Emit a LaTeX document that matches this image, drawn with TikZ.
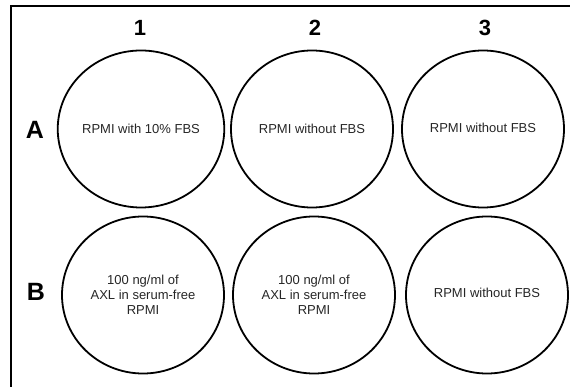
\documentclass[tikz,border=0pt]{standalone}
\usepackage{fontspec}
\setmainfont{Liberation Sans}
\usetikzlibrary{shapes.geometric}
\begin{document}
\begin{tikzpicture}[x=1pt,y=-1pt,
  well/.style={draw=black,line width=1.8pt,ellipse,inner sep=0pt,minimum width=162pt,minimum height=157pt,align=center,font=\fontsize{13}{15}\selectfont,text=black!85},
  colhead/.style={font=\fontsize{22}{24}\selectfont\bfseries},
  rowhead/.style={font=\fontsize{25}{27}\selectfont\bfseries}]
\useasboundingbox (0,0) rectangle (570,387);
\draw[line width=2.5pt] (11,390) -- (11,6) -- (575,6);
\node[colhead] (c1) at (140,28) {1};
\node[colhead] (c2) at (315,28) {2};
\node[colhead] (c3) at (485,28) {3};
\node[rowhead] (rA) at (35,130) {A};
\node[rowhead] (rB) at (36,292) {B};
\node[well] (a1) at (141,129) {RPMI with 10\% FBS};
\node[well] (a2) at (312,129) {RPMI without FBS};
\node[well] (a3) at (483,129) {\raisebox{2pt}{RPMI without FBS}};
\node[well] (b1) at (143,295) {100 ng/ml of\\AXL in serum-free\\RPMI};
\node[well] (b2) at (314,295) {100 ng/ml of\\AXL in serum-free\\RPMI};
\node[well] (b3) at (487,295) {\raisebox{4pt}{RPMI without FBS}};
\end{tikzpicture}
\end{document}
